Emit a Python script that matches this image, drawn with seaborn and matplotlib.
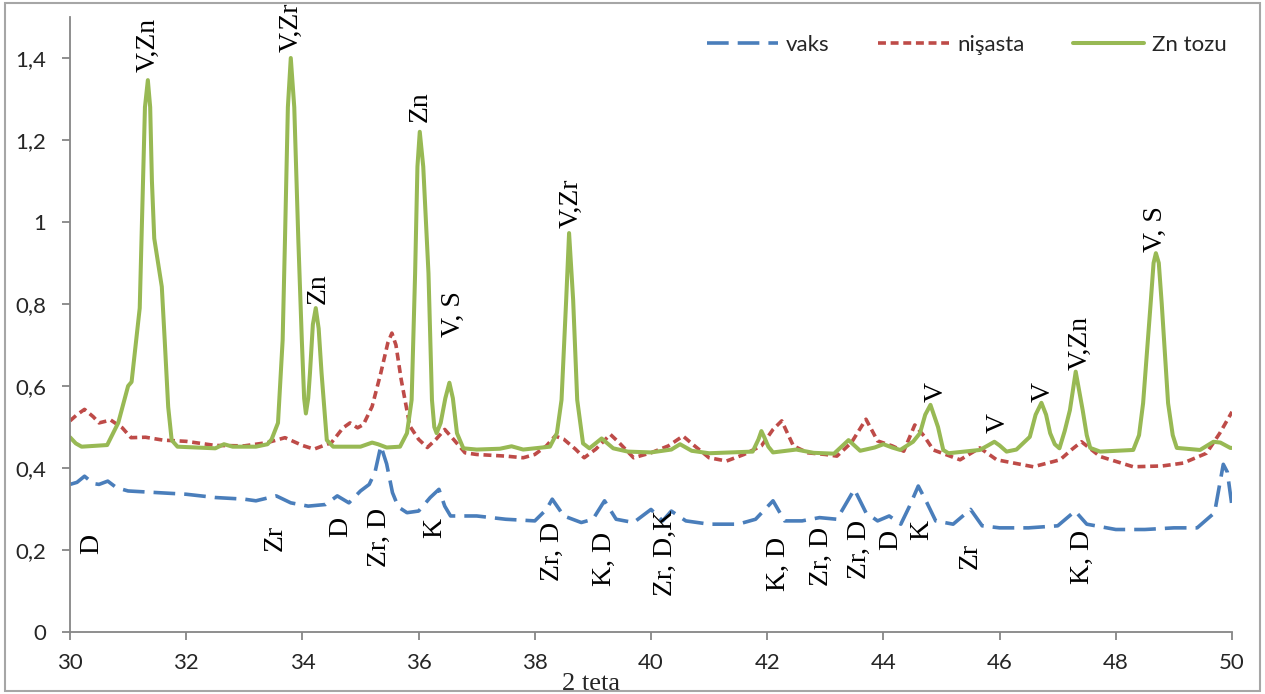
import numpy as np
import pandas as pd
import matplotlib
matplotlib.use("Agg")
import matplotlib.pyplot as plt
import seaborn as sns
from matplotlib.lines import Line2D
from matplotlib.patches import Rectangle
from matplotlib.ticker import FuncFormatter

# ---------------- data ----------------
zn_x = [30.0, 30.1, 30.2, 30.64, 30.83, 31.0, 31.06, 31.2, 31.26, 31.29, 31.34, 31.38, 31.41, 31.45,
        31.5, 31.58, 31.63, 31.69, 31.75, 31.85, 32.5, 32.65, 32.8, 33.2, 33.4, 33.47, 33.58, 33.66,
        33.7, 33.75, 33.8, 33.86, 33.93, 33.99, 34.03, 34.06, 34.1, 34.13, 34.18, 34.23, 34.28, 34.33,
        34.42, 34.53, 35.0, 35.2, 35.3, 35.45, 35.68, 35.8, 35.88, 35.94, 35.98, 36.02, 36.08, 36.17,
        36.23, 36.27, 36.31, 36.38, 36.46, 36.53, 36.59, 36.66, 36.77, 37.0, 37.4, 37.6, 37.8, 38.26,
        38.38, 38.46, 38.54, 38.59, 38.66, 38.73, 38.83, 38.94, 39.15, 39.35, 39.6, 40.0, 40.35, 40.5,
        40.7, 41.0, 41.75, 41.85, 41.9, 41.95, 42.02, 42.1, 42.5, 42.8, 43.15, 43.3, 43.4, 43.5, 43.6,
        43.85, 44.0, 44.15, 44.29, 44.51, 44.63, 44.72, 44.81, 44.94, 45.03, 45.12, 45.66, 45.8, 45.91,
        46.0, 46.12, 46.29, 46.52, 46.62, 46.72, 46.8, 46.87, 46.95, 47.03, 47.12, 47.21, 47.31, 47.43,
        47.5, 47.56, 47.73, 48.3, 48.4, 48.47, 48.6, 48.65, 48.69, 48.74, 48.79, 48.9, 48.98, 49.05,
        49.45, 49.68, 49.8, 49.97, 50.0]
zn_y = [0.475, 0.46, 0.452, 0.456, 0.51, 0.60, 0.61, 0.79, 1.12, 1.28, 1.346, 1.28, 1.1, 0.96,
        0.915, 0.842, 0.712, 0.549, 0.468, 0.452, 0.448, 0.458, 0.452, 0.452, 0.458, 0.47, 0.51, 0.712,
        0.956, 1.28, 1.40, 1.28, 0.956, 0.712, 0.57, 0.533, 0.57, 0.631, 0.75, 0.79, 0.74, 0.631,
        0.468, 0.452, 0.452, 0.462, 0.458, 0.45, 0.452, 0.485, 0.566, 0.875, 1.135, 1.22, 1.135, 0.875,
        0.566, 0.5, 0.485, 0.51, 0.57, 0.608, 0.57, 0.485, 0.448, 0.445, 0.447, 0.453, 0.445, 0.452,
        0.485, 0.566, 0.81, 0.973, 0.81, 0.566, 0.46, 0.448, 0.472, 0.448, 0.44, 0.438, 0.445, 0.458,
        0.442, 0.436, 0.44, 0.47, 0.49, 0.475, 0.452, 0.438, 0.445, 0.437, 0.435, 0.455, 0.468, 0.455, 0.442,
        0.45, 0.458, 0.45, 0.444, 0.464, 0.485, 0.53, 0.554, 0.50, 0.444, 0.436, 0.444, 0.455, 0.464,
        0.455, 0.44, 0.445, 0.476, 0.53, 0.559, 0.53, 0.485, 0.458, 0.448, 0.49, 0.541, 0.635, 0.541,
        0.48, 0.449, 0.44, 0.444, 0.48, 0.558, 0.802, 0.9, 0.924, 0.9, 0.802, 0.558, 0.48, 0.449,
        0.444, 0.464, 0.462, 0.449, 0.449]

nis_x = [30.0, 30.12, 30.25, 30.4, 30.5, 30.7, 30.9, 31.05, 31.3, 31.6, 32.0, 32.5, 33.0, 33.4, 33.7,
         34.0, 34.2, 34.5, 34.7, 34.82, 34.95, 35.05, 35.2, 35.35, 35.47, 35.54, 35.61, 35.7, 35.85,
         36.0, 36.15, 36.3, 36.45, 36.6, 36.8, 37.0, 37.5, 37.8, 38.0, 38.2, 38.35, 38.5, 38.7, 38.85,
         39.05, 39.3, 39.45, 39.7, 40.0, 40.3, 40.55, 40.75, 41.0, 41.3, 41.6, 41.9, 42.1, 42.25, 42.45,
         42.7, 43.0, 43.2, 43.45, 43.7, 43.9, 44.15, 44.35, 44.54, 44.7, 44.86, 45.32, 45.66, 45.95,
         46.58, 47.04, 47.25, 47.41, 47.73, 48.3, 48.8, 49.16, 49.56, 49.79, 50.0]
nis_y = [0.515, 0.53, 0.543, 0.525, 0.51, 0.517, 0.498, 0.474, 0.475, 0.468, 0.465, 0.455, 0.454, 0.462, 0.474,
         0.455, 0.446, 0.462, 0.498, 0.51, 0.498, 0.506, 0.55, 0.632, 0.705, 0.729, 0.7, 0.616, 0.502,
         0.47, 0.45, 0.47, 0.494, 0.47, 0.437, 0.433, 0.429, 0.425, 0.433, 0.454, 0.478, 0.47, 0.446, 0.425,
         0.446, 0.482, 0.462, 0.425, 0.437, 0.454, 0.478, 0.454, 0.425, 0.417, 0.433, 0.454, 0.494, 0.515, 0.454,
         0.437, 0.433, 0.429, 0.462, 0.519, 0.466, 0.454, 0.441, 0.505, 0.478, 0.444, 0.42, 0.449, 0.42,
         0.403, 0.42, 0.446, 0.464, 0.428, 0.403, 0.405, 0.412, 0.436, 0.485, 0.537]

vaks_x = [30.0, 30.12, 30.25, 30.4, 30.5, 30.65, 30.8, 31.0, 31.5, 32.0, 32.5, 33.0, 33.2, 33.55, 33.8,
          34.1, 34.4, 34.6, 34.8, 35.0, 35.15, 35.25, 35.35, 35.45, 35.55, 35.65, 35.8, 36.0, 36.2,
          36.35, 36.45, 36.55, 37.0, 37.5, 38.0, 38.2, 38.3, 38.5, 38.8, 39.0, 39.2, 39.4, 39.7, 40.0,
          40.2, 40.35, 40.6, 41.0, 41.5, 41.8, 42.1, 42.3, 42.6, 42.9, 43.2, 43.5, 43.7, 43.9, 44.1,
          44.3, 44.45, 44.6, 44.75, 44.9, 45.2, 45.5, 45.7, 46.0, 46.5, 47.0, 47.3, 47.5, 48.0, 48.5,
          49.0, 49.4, 49.7, 49.85, 49.92, 50.0]
vaks_y = [0.36, 0.365, 0.38, 0.362, 0.36, 0.368, 0.352, 0.344, 0.34, 0.336, 0.328, 0.324, 0.32, 0.332, 0.315,
          0.307, 0.311, 0.332, 0.315, 0.344, 0.36, 0.39, 0.454, 0.41, 0.34, 0.305, 0.291, 0.295, 0.328,
          0.348, 0.307, 0.283, 0.283, 0.275, 0.271, 0.299, 0.324, 0.283, 0.267, 0.275, 0.32, 0.275, 0.267, 0.299,
          0.271, 0.295, 0.271, 0.263, 0.263, 0.275, 0.32, 0.271, 0.271, 0.279, 0.275, 0.348, 0.291, 0.271, 0.283,
          0.263, 0.307, 0.356, 0.315, 0.271, 0.263, 0.299, 0.259, 0.254, 0.254, 0.259, 0.295, 0.263, 0.25, 0.25,
          0.254, 0.254, 0.291, 0.409, 0.39, 0.307]

series_names = ["vaks", "nişasta", "Zn tozu"]

# peak annotations above the green curve
top_text = ["V,Zn", "V,Zr", "Zn", "Zn", "V, S", "V,Zr", "V", "V", "V", "V,Zn", "V, S"]
top_x = [31.35, 33.8, 34.27, 36.03, 36.6, 38.62, 44.9, 45.97, 46.75, 47.38, 48.69]
top_y = [1.365, 1.415, 0.80, 1.245, 0.72, 0.985, 0.562, 0.485, 0.56, 0.639, 0.928]

# peak annotations below the blue curve
bot_text = ["D", "Zr", "D", "Zr, D", "K", "Zr, D", "K, D", "Zr, D,K", "K, D", "Zr, D", "Zr, D",
            "D", "K", "Zr", "K, D"]
bot_x = [30.37, 33.53, 34.66, 35.33, 36.28, 38.31, 39.19, 40.24, 42.2, 42.94, 43.58,
         44.13, 44.66, 45.5, 47.43]
bot_y = [0.24, 0.262, 0.28, 0.302, 0.278, 0.268, 0.244, 0.298, 0.232, 0.256, 0.273,
         0.249, 0.273, 0.217, 0.249]

y_ticks = [0, 0.2, 0.4, 0.6, 0.8, 1.0, 1.2, 1.4]
x_ticks = [30, 32, 34, 36, 38, 40, 42, 44, 46, 48, 50]

# ---------------- style ----------------
sns.set_style("white")
plt.rcParams["font.family"] = ["Lato", "DejaVu Sans"]

c_blue = "#4A7EBB"
c_red = "#BE4B48"
c_green = "#98B954"
axis_gray = "#868686"

fig = plt.figure(figsize=(12.65, 6.94), dpi=100)
ax = fig.add_axes([70 / 1265, 62 / 694, (1232 - 70) / 1265, (632 - 17) / 694])

df_v = pd.DataFrame({"x": vaks_x, "y": vaks_y})
df_n = pd.DataFrame({"x": nis_x, "y": nis_y})
df_z = pd.DataFrame({"x": zn_x, "y": zn_y})

sns.lineplot(data=df_v, x="x", y="y", ax=ax, color=c_blue, lw=2.6, sort=False,
             estimator=None, linestyle=(0, (6, 2.5)))
sns.lineplot(data=df_n, x="x", y="y", ax=ax, color=c_red, lw=2.6, sort=False,
             estimator=None, linestyle=(0, (2.2, 1.3)))
sns.lineplot(data=df_z, x="x", y="y", ax=ax, color=c_green, lw=2.9, sort=False,
             estimator=None)

ax.set_xlim(30, 50)
ax.set_ylim(0, 1.5)
ax.set_xticks(x_ticks)
ax.set_yticks(y_ticks)
fmt = FuncFormatter(lambda v, p: ("%g" % round(v, 2)).replace(".", ","))
ax.yaxis.set_major_formatter(fmt)
ax.xaxis.set_major_formatter(fmt)
ax.set_xlabel("")
ax.set_ylabel("")

for s in ["top", "right"]:
    ax.spines[s].set_visible(False)
for s in ["left", "bottom"]:
    ax.spines[s].set_color(axis_gray)
    ax.spines[s].set_linewidth(1.3)

ax.tick_params(axis="y", direction="out", length=6, width=1.3, color=axis_gray,
               labelsize=16, pad=11, left=True)
ax.tick_params(axis="x", direction="out", length=6, width=1.3, color=axis_gray,
               labelsize=16, pad=9, bottom=True)
ax.grid(False)

for t, x, y in zip(top_text, top_x, top_y):
    ax.text(x, y, t, rotation=90, ha="center", va="bottom", fontsize=20,
            family="Liberation Serif", color="black")
for t, x, y in zip(bot_text, bot_x, bot_y):
    ax.text(x, y, t, rotation=90, ha="center", va="top", fontsize=20,
            family="Liberation Serif", color="black")

fig.text(591 / 1265, 1 - 684 / 694, "2 teta", ha="center", va="center", fontsize=19,
         family="Liberation Serif")

handles = [Line2D([], [], color=c_blue, lw=2.6, linestyle=(0, (6, 2.5))),
           Line2D([], [], color=c_red, lw=2.6, linestyle=(0, (2.2, 1.3))),
           Line2D([], [], color=c_green, lw=2.9)]
fig.legend(handles, series_names, loc="center right", bbox_to_anchor=(1227 / 1265, 1 - 45 / 694),
           ncol=3, frameon=False, fontsize=16, handlelength=3.2, handletextpad=0.35,
           columnspacing=2.2, borderpad=0, borderaxespad=0)

fig.patches.append(Rectangle((0.004, 0.004), 0.992, 0.992, transform=fig.transFigure,
                             fill=False, edgecolor="#A6A6A6", lw=1.5))

fig.savefig("out.png", dpi=100)
